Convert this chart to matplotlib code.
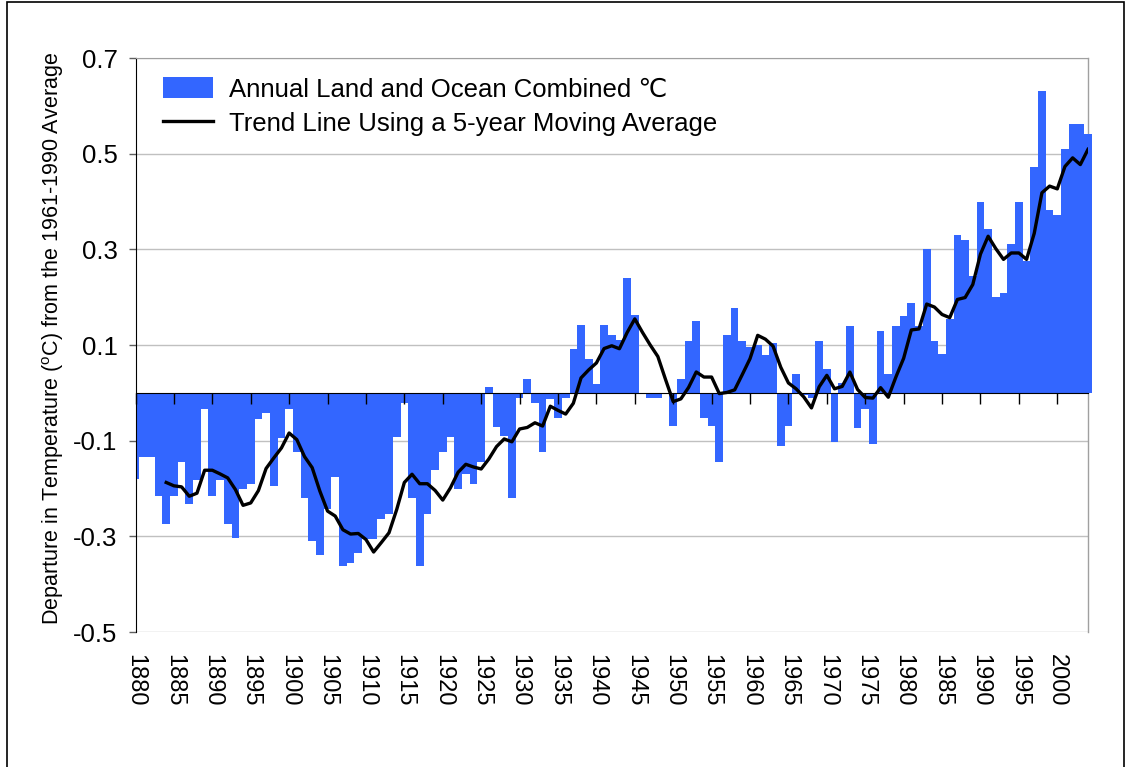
#!/usr/bin/env python3
"""
Global temperature departures, 1880-2004
  - annual land+ocean anomaly bars (vs 1961-1990 mean)
  - 5-year moving average trend line
Output: out.png
"""

import numpy as np
import pandas as pd
import matplotlib
matplotlib.use("Agg")
import matplotlib.pyplot as plt
from matplotlib.patches import Rectangle

# categories (one bar per year)
YEARS = list(range(1880, 2005))

# anomaly in deg C
ANOMALY = [
    -0.180, -0.134, -0.134, -0.215, -0.274, -0.215, -0.145, -0.232, -0.183, -0.034,  # 1880s
    -0.215, -0.183, -0.274, -0.304, -0.200, -0.190, -0.054, -0.043, -0.194, -0.095,  # 1890s
    -0.034, -0.123, -0.220, -0.310, -0.340, -0.243, -0.175, -0.363, -0.355, -0.334,  # 1900s
    -0.306, -0.306, -0.264, -0.253, -0.092, -0.022, -0.220, -0.363, -0.253, -0.162,  # 1910s
    -0.123, -0.092, -0.200, -0.170, -0.190, -0.144, 0.013, -0.071, -0.090, -0.220,   # 1920s
    -0.010, 0.029, -0.022, -0.124, -0.013, -0.053, -0.010, 0.091, 0.141, 0.071,      # 1930s
    0.019, 0.141, 0.120, 0.110, 0.240, 0.162, 0.000, -0.011, -0.011, 0.000,          # 1940s
    -0.070, 0.029, 0.108, 0.151, -0.053, -0.070, -0.144, 0.120, 0.178, 0.108,       # 1950s
    0.095, 0.100, 0.080, 0.105, -0.112, -0.070, 0.039, -0.005, -0.010, 0.109,        # 1960s
    0.050, -0.102, 0.020, 0.140, -0.073, -0.034, -0.108, 0.129, 0.040, 0.140,        # 1970s
    0.160, 0.188, 0.140, 0.300, 0.109, 0.082, 0.155, 0.330, 0.320, 0.245,            # 1980s
    0.400, 0.342, 0.200, 0.208, 0.312, 0.400, 0.275, 0.472, 0.632, 0.382,            # 1990s
    0.371, 0.509, 0.562, 0.562, 0.541,                                               # 2000s
]

YTICKS = [-0.5, -0.3, -0.1, 0.1, 0.3, 0.5, 0.7]
XTICKS = list(range(1880, 2001, 5))

BAR_LABEL = "Annual Land and Ocean Combined \u2103"
LINE_LABEL = "Trend Line Using a 5-year Moving Average"
Y_LABEL = r"Departure in Temperature ($^{\rm o}$C) from the 1961-1990 Average"

W, H = 1129, 767


def main():
    plt.rcParams['font.family'] = ['Liberation Sans', 'DejaVu Sans']
    plt.rcParams['axes.unicode_minus'] = False
    plt.rcParams['mathtext.fontset'] = 'custom'
    plt.rcParams['mathtext.rm'] = 'Liberation Sans'

    fig = plt.figure(figsize=(W / 100, H / 100), dpi=100)
    fig.patch.set_facecolor('white')
    # plot area in pixel terms: x 135.5..1088, y 58..632
    ax = fig.add_axes([135.5 / W, (H - 632) / H, 952.5 / W, 574 / H])

    # grid under the bars
    for v in YTICKS:
        ax.axhline(v, color='#c0c0c0', lw=1, zorder=0.5)
    ax.axvline(2004, color='#a0a0a0', lw=1, zorder=0.6, clip_on=False)

    bars = ax.bar(YEARS, ANOMALY, width=1.0, color='#3366ff', linewidth=0,
                  label=BAR_LABEL, zorder=1)
    bars[-1].set_clip_on(False)  # last bar pokes past the frame like the original

    trend = pd.Series(ANOMALY, index=YEARS).rolling(5).mean()
    line, = ax.plot(trend.index, trend.values, color='black', lw=2.4,
                    label=LINE_LABEL, zorder=3)

    ax.set_xlim(1880, 2004)
    ax.set_ylim(-0.5, 0.7)

    # category axis crosses at zero, labels sit under the plot
    ax.spines['bottom'].set_position(('data', 0))
    ax.spines['bottom'].set_color('black')
    ax.spines['right'].set_visible(False)
    ax.spines['top'].set_color('#a0a0a0')
    ax.spines['left'].set_color('black')
    ax.set_xticks(XTICKS)
    ax.tick_params(axis='x', direction='out', length=8, width=1, color='black',
                   labelbottom=False)

    sec = ax.secondary_xaxis('bottom')
    sec.set_xticks(XTICKS)
    sec.set_xticklabels([str(y) for y in XTICKS])
    sec.tick_params(axis='x', length=0, pad=16, labelsize=17, labelrotation=-90)
    sec.spines['bottom'].set_visible(False)

    ax.set_yticks(YTICKS)
    ax.set_yticklabels([f"{v:.1f}" for v in YTICKS])
    ax.tick_params(axis='y', direction='out', length=5, width=1, color='#606060',
                   pad=8, labelsize=18.5)

    ax.set_ylabel(Y_LABEL, fontsize=15.5)
    ax.yaxis.set_label_coords(-0.073, 0.512)

    ax.legend(handles=[bars, line], loc='upper left',
              bbox_to_anchor=(0.029, 0.967), frameon=False,
              fontsize=18.5, handlelength=1.95, handleheight=0.9,
              handletextpad=0.6, labelspacing=0.38, borderpad=0, borderaxespad=0)

    # chart-area border
    fig.add_artist(Rectangle((7 / W, -0.05), 1117 / W, (H - 2) / H + 0.05,
                             transform=fig.transFigure, fill=False,
                             edgecolor='black', lw=1.2))

    fig.savefig("out.png", dpi=100, facecolor='white')
    plt.close(fig)


if __name__ == '__main__':
    main()
